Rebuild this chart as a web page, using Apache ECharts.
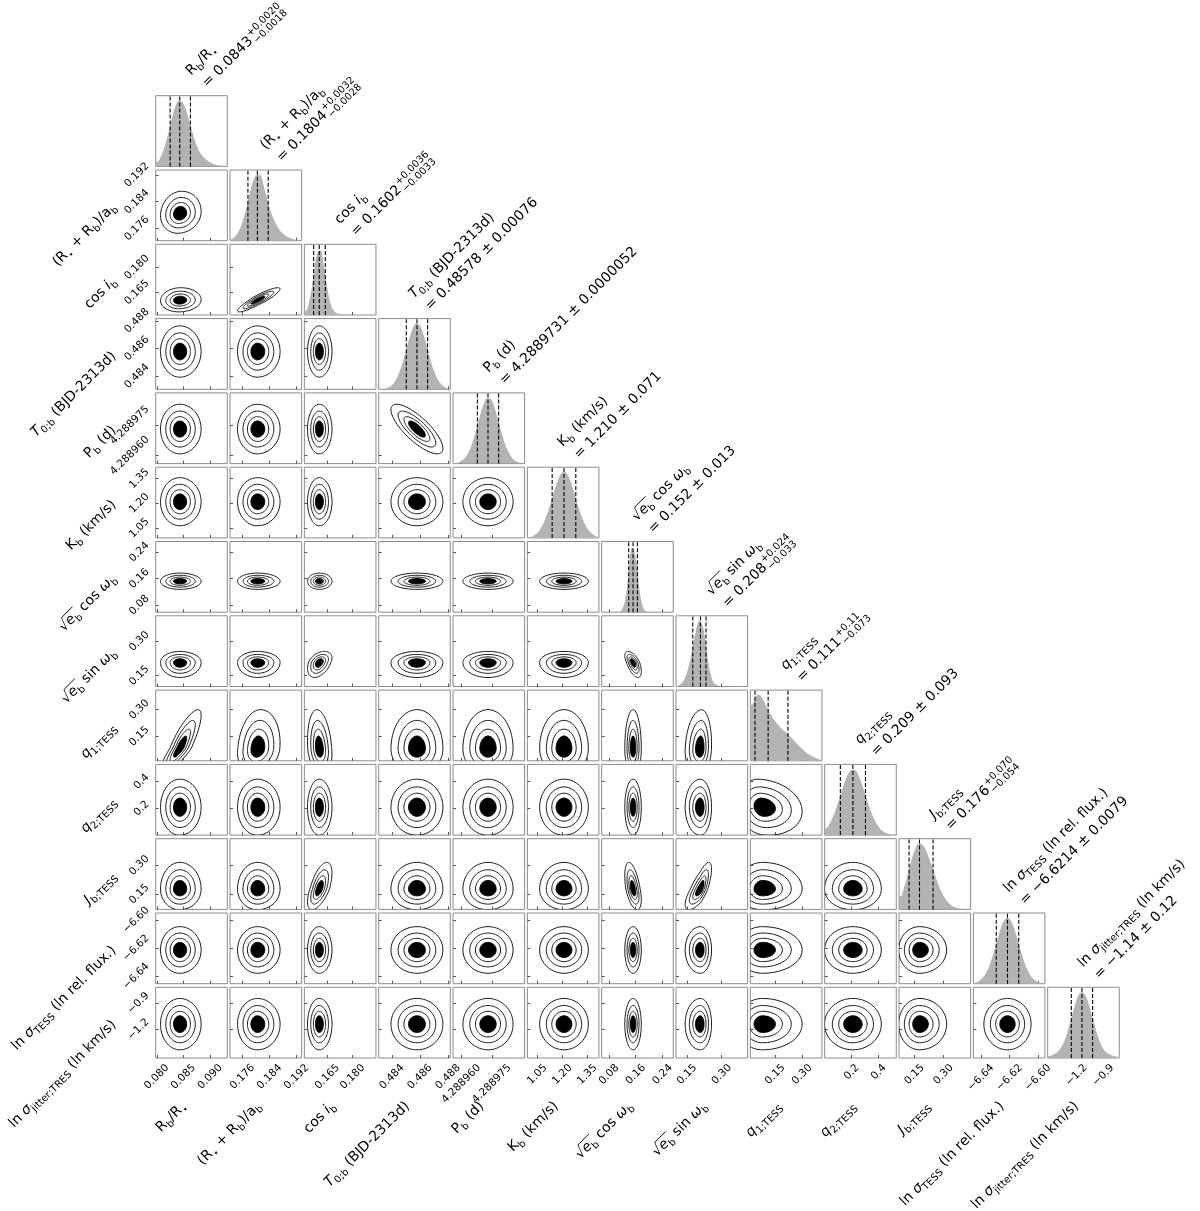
<!DOCTYPE html>
<html>
<head>
<meta charset="utf-8">
<script src="https://cdn.jsdelivr.net/npm/echarts@6.0.0/dist/echarts.min.js"></script>
<style>
    html, body {margin: 0; padding: 0; background: #fff}
    #chart {width: 1200px; height: 1211px}
</style>
</head>
<body>
<div id="chart"></div>
<script>
// axis labels, one list of text runs per parameter ('n' upright, 'i' italic, 'b' subscript, third item = overline)
const names = [
    [['R', 'n'], ['b', 'b'], ['/R', 'n'], ['⋆', 'b']],
    [['(R', 'n'], ['⋆', 'b'], [' + R', 'n'], ['b', 'b'], [')/a', 'n'], ['b', 'b']],
    [['cos ', 'n'], ['i', 'i'], ['b', 'b']],
    [['T', 'i'], ['0;b', 'b'], [' (BJD-2313d)', 'n']],
    [['P', 'n'], ['b', 'b'], [' (d)', 'n']],
    [['K', 'n'], ['b', 'b'], [' (km/s)', 'n']],
    [['√', 'n'], ['e', 'i', 1], ['b', 'b', 1], [' cos ', 'n'], ['ω', 'i'], ['b', 'b']],
    [['√', 'n'], ['e', 'i', 1], ['b', 'b', 1], [' sin ', 'n'], ['ω', 'i'], ['b', 'b']],
    [['q', 'i'], ['1;TESS', 'b']],
    [['q', 'i'], ['2;TESS', 'b']],
    [['J', 'i'], ['b;TESS', 'b']],
    [['ln ', 'n'], ['σ', 'i'], ['TESS', 'b'], [' (ln rel. flux.)', 'n']],
    [['ln ', 'n'], ['σ', 'i'], ['jitter;TRES', 'b'], [' (ln km/s)', 'n']]
]

// title numbers
const titleMain = ['0.0843', '0.1804', '0.1602', '0.48578', '4.2889731', '1.210', '0.152', '0.208', '0.111', '0.209', '0.176', '−6.6214', '−1.14']
const titlePlus = ['+0.0020', '+0.0032', '+0.0036', '0.00076', '0.0000052', '0.071', '0.013', '+0.024', '+0.11', '0.093', '+0.070', '0.0079', '0.12']
const titleMinus = ['−0.0018', '−0.0028', '−0.0033', null, null, null, null, '−0.033', '−0.073', null, '−0.054', null, null]

// quantiles (16 / 50 / 84 %)
const median = [0.0843, 0.1804, 0.1602, 0.48578, 4.2889731, 1.210, 0.152, 0.208, 0.111, 0.209, 0.176, -6.6214, -1.14]
const sigLo = [0.0018, 0.0028, 0.0033, 0.00076, 0.0000052, 0.071, 0.013, 0.033, 0.073, 0.093, 0.054, 0.0079, 0.12]
const sigHi = [0.0020, 0.0032, 0.0036, 0.00076, 0.0000052, 0.071, 0.013, 0.024, 0.11, 0.093, 0.070, 0.0079, 0.12]
// where the 2D contours are centred, and how far they spread relative to sigma
const centre = [0.0843, 0.1804, 0.1602, 0.48578, 4.2889731, 1.210, 0.152, 0.208, 0.08, 0.209, 0.176, -6.6214, -1.14]
const spread = [1.0, 1.05, 1.05, 1.22, 1.18, 1.03, 0.95, 1.0, 1.0, 1.13, 1.0, 1.05, 1.22]

// axis ranges
const lo = [0.0798, 0.1723, 0.1514, 0.48305, 4.288956, 0.99, 0.0582, 0.1025, 0.012, 0.0, 0.07, -6.6454, -1.526]
const hi = [0.0932, 0.1935, 0.1938, 0.48816, 4.288991, 1.42, 0.2723, 0.4118, 0.41, 0.53, 0.44, -6.5951, -0.72]

// tick values and their labels
const ticks = [
    [0.080, 0.085, 0.090], [0.176, 0.184, 0.192], [0.165, 0.180], [0.484, 0.486, 0.488],
    [4.288960, 4.288975], [1.05, 1.20, 1.35], [0.08, 0.16, 0.24], [0.15, 0.30],
    [0.15, 0.30], [0.2, 0.4], [0.15, 0.30], [-6.64, -6.62, -6.60], [-1.2, -0.9]
]
const tickText = [
    ['0.080', '0.085', '0.090'], ['0.176', '0.184', '0.192'], ['0.165', '0.180'], ['0.484', '0.486', '0.488'],
    ['4.288960', '4.288975'], ['1.05', '1.20', '1.35'], ['0.08', '0.16', '0.24'], ['0.15', '0.30'],
    ['0.15', '0.30'], ['0.2', '0.4'], ['0.15', '0.30'], ['−6.64', '−6.62', '−6.60'], ['−1.2', '−0.9']
]

// 1D marginal heights (relative to peak) across each axis range
const histRb = [0.071, 0.157, 0.30, 0.50, 0.72, 0.906, 0.997, 0.97, 0.845, 0.665, 0.47, 0.31, 0.20, 0.13, 0.085, 0.05, 0.03, 0.018, 0.01, 0.005]
const histRa = [0.026, 0.067, 0.15, 0.29, 0.49, 0.72, 0.91, 1.0, 0.99, 0.81, 0.60, 0.42, 0.29, 0.19, 0.12, 0.075, 0.045, 0.025, 0.013, 0.006]
const histCosi = [0.065, 0.24, 0.57, 0.92, 0.98, 0.73, 0.38, 0.14, 0.05, 0.02, 0.008, 0.003, 0.001, 0, 0, 0, 0, 0, 0, 0]
const histT0 = [0.003, 0.008, 0.023, 0.054, 0.115, 0.22, 0.37, 0.56, 0.76, 0.92, 1.0, 0.96, 0.83, 0.64, 0.44, 0.27, 0.147, 0.072, 0.031, 0.012]
const histP = [0.007, 0.018, 0.045, 0.098, 0.19, 0.33, 0.52, 0.72, 0.89, 0.99, 0.98, 0.865, 0.68, 0.48, 0.30, 0.17, 0.085, 0.038, 0.015, 0.006]
const histK = [0.013, 0.030, 0.064, 0.125, 0.22, 0.357, 0.53, 0.71, 0.87, 0.975, 0.997, 0.93, 0.79, 0.61, 0.43, 0.28, 0.165, 0.089, 0.044, 0.019]
const histEcos = [0, 0, 0, 0, 0.002, 0.026, 0.17, 0.58, 0.975, 0.83, 0.36, 0.078, 0.009, 0.001, 0, 0, 0, 0, 0, 0]
const histEsin = [0.012, 0.044, 0.128, 0.30, 0.55, 0.83, 0.99, 0.91, 0.555, 0.225, 0.06, 0.02, 0.008, 0.005, 0.004, 0.004, 0.004, 0.006, 0.012, 0.008]
const histQ1 = [0.85, 0.98, 1.0, 0.93, 0.82, 0.72, 0.63, 0.56, 0.50, 0.45, 0.40, 0.35, 0.29, 0.23, 0.18, 0.13, 0.09, 0.06, 0.04, 0.02]
const histQ2 = [0.107, 0.188, 0.30, 0.45, 0.62, 0.79, 0.92, 0.99, 0.985, 0.90, 0.76, 0.59, 0.42, 0.28, 0.17, 0.095, 0.049, 0.023, 0.01, 0.004]
const histJ = [0.20, 0.35, 0.54, 0.75, 0.915, 0.997, 0.98, 0.90, 0.76, 0.61, 0.45, 0.31, 0.20, 0.12, 0.068, 0.036, 0.018, 0.009, 0.004, 0.002]
const histLnT = [0.016, 0.038, 0.081, 0.157, 0.276, 0.437, 0.626, 0.81, 0.947, 1.0, 0.954, 0.823, 0.641, 0.45, 0.287, 0.165, 0.086, 0.040, 0.017, 0.007]
const histJit = [0.03, 0.05, 0.08, 0.14, 0.234, 0.39, 0.585, 0.78, 0.936, 1.0, 0.953, 0.81, 0.62, 0.42, 0.256, 0.14, 0.08, 0.05, 0.03, 0.02]
const hists = [histRb, histRa, histCosi, histT0, histP, histK, histEcos, histEsin, histQ1, histQ2, histJ, histLnT, histJit]

// correlation of each pair, row i (1..12) against columns 0..i-1
const rho = [
    [0.1],
    [0.05, 0.9],
    [0, 0, 0],
    [0, 0, 0, -0.78],
    [0, 0, 0, 0, 0],
    [0, 0, 0, 0, 0, 0],
    [0, 0, 0.4, 0, 0, 0, -0.6],
    [0.85, 0.15, -0.2, 0, 0, 0, 0, 0.1],
    [0, 0, 0, 0, 0, 0, 0, 0, -0.15],
    [0, 0, 0.6, 0, 0, 0, -0.5, 0.75, 0, 0],
    [0, 0, 0, 0, 0, 0, 0, 0, 0, 0, 0],
    [0, 0, 0, 0, 0, 0, 0, 0, 0, 0, 0, 0]
]
// contour levels in sigma (the first one is filled)
const levels = [0.65, 1, 1.45, 2]

const N = 13
const X0 = 155.7, DX = 74.33, W = 71.6
const Y0 = 95.7, DY = 74.3, H = 70.7
const MAIN = 14, SCRIPT = 10, TICK = 10.5
const FONT = 'DejaVu Sans'
const HTOP = 1.07

let ctx = document.createElement('canvas').getContext('2d')
function measure(t, size, italic) {
    ctx.font = (italic ? 'italic ' : '') + size + 'px "' + FONT + '"'
    return ctx.measureText(t).width
}

function text(t, x, yb, size, italic) {
    return {
        type: 'text', x: x, y: yb - 0.3 * size,
        style: {text: t, fontSize: size, fontFamily: FONT, fontStyle: italic ? 'italic' : 'normal',
            fill: '#000', align: 'left', verticalAlign: 'middle'}
    }
}

function place(runs, x0, yb) {
    let els = []
    let x = x0, ovA = null, ovB = null
    runs.forEach(function (r) {
        let t = r[0], k = r[1], w
        if (k === 'p') {
            els.push(text(t[0], x + 1, yb - 6, SCRIPT, false))
            els.push(text(t[1], x + 1, yb + 4, SCRIPT, false))
            w = 1 + Math.max(measure(t[0], SCRIPT), measure(t[1], SCRIPT))
        } else {
            let size = k === 'b' ? SCRIPT : MAIN
            els.push(text(t, x, yb + (k === 'b' ? 3.5 : 0), size, k === 'i'))
            w = measure(t, size, k === 'i')
        }
        if (r[2]) {
            if (ovA === null) ovA = x
            ovB = x + w
        }
        x += w
    })
    if (ovA !== null) {
        els.push({type: 'line', shape: {x1: ovA - 1, y1: yb - 12.5, x2: ovB, y2: yb - 12.5},
            style: {stroke: '#000', lineWidth: 0.9}})
    }
    return {els: els, width: x - x0}
}

function titleRuns(p) {
    if (titleMinus[p]) {
        return [['= ' + titleMain[p], 'n'], [[titlePlus[p], titleMinus[p]], 'p']]
    }
    return [['= ' + titleMain[p] + ' ± ' + titlePlus[p], 'n']]
}

function labelFor(p, v) {
    let best = 0
    ticks[p].forEach(function (t, k) {
        if (Math.abs(t - v) < Math.abs(ticks[p][best] - v)) best = k
    })
    return tickText[p][best]
}

function labelMargin(p) {
    let L = 0
    tickText[p].forEach(function (t) { L = Math.max(L, measure(t, TICK)) })
    return 4.5 + (L + TICK) * 0.3536
}

function makeAxis(p, g, labelled) {
    return {
        type: 'value', gridIndex: g, min: lo[p], max: hi[p],
        axisLine: {show: false},
        splitLine: {show: false},
        axisTick: {show: true, inside: true, length: 3, lineStyle: {color: '#555', width: 1}, customValues: ticks[p]},
        axisLabel: {
            show: labelled, customValues: ticks[p], rotate: 45, align: 'center', verticalAlign: 'middle',
            margin: labelMargin(p), fontSize: TICK, fontFamily: FONT, color: '#000',
            formatter: function (v) { return labelFor(p, v) }
        }
    }
}

function ring(i, j, s) {
    let r = rho[i - 1][j], q = Math.sqrt(1 - r * r)
    let pts = []
    for (let k = 0; k <= 72; k++) {
        let t = k / 72 * 2 * Math.PI
        let u = s * spread[j] * Math.cos(t)
        let v = s * spread[i] * (r * Math.cos(t) + q * Math.sin(t))
        pts.push([centre[j] + u * (u < 0 ? sigLo[j] : sigHi[j]), centre[i] + v * (v < 0 ? sigLo[i] : sigHi[i])])
    }
    return pts
}

function histSeries(p, g) {
    let vals = hists[p], n = vals.length, step = (hi[p] - lo[p]) / n
    let data = [[lo[p], vals[0]]]
    vals.forEach(function (v, k) { data.push([lo[p] + (k + 0.5) * step, v]) })
    data.push([hi[p], vals[n - 1]])
    let out = [{
        type: 'line', xAxisIndex: g, yAxisIndex: g, data: data, smooth: 0.35, symbol: 'none',
        lineStyle: {width: 0}, areaStyle: {color: '#b3b3b3', opacity: 1}, silent: true
    }]
    // dashed quantile lines
    let qs = [median[p] - sigLo[p], median[p], median[p] + sigHi[p]]
    qs.forEach(function (q) {
        out.push({
            type: 'line', xAxisIndex: g, yAxisIndex: g, data: [[q, 0], [q, HTOP]], symbol: 'none', silent: true,
            lineStyle: {color: '#000', type: [4, 2], width: 1.1}, z: 3
        })
    })
    return out
}

function contourSeries(i, j, g) {
    return {
        type: 'custom', coordinateSystem: 'cartesian2d', xAxisIndex: g, yAxisIndex: g, clip: true, silent: true,
        data: levels.map(function (s) { return [centre[j], centre[i], s] }),
        encode: {x: 0, y: 1},
        renderItem: function (params, api) {
            let s = api.value(2)
            let pts = ring(i, j, s).map(function (pt) { return api.coord(pt) })
            let cs = params.coordSys
            let inner = s === levels[0]
            return {
                type: inner ? 'polygon' : 'polyline',
                shape: {points: pts},
                style: inner ? {fill: '#000', stroke: '#000', lineWidth: 1} : {fill: null, stroke: '#1a1a1a', lineWidth: 1},
                clipPath: {type: 'rect', shape: {x: cs.x, y: cs.y, width: cs.width, height: cs.height}}
            }
        }
    }
}

let grid = [], xAxis = [], yAxis = [], series = []
for (let i = 0; i < N; i++) {
    for (let j = 0; j <= i; j++) {
        let g = grid.length
        grid.push({
            left: X0 + j * DX, top: Y0 + i * DY, width: W, height: H,
            show: true, borderColor: '#8c8c8c', borderWidth: 1, backgroundColor: 'transparent',
            containLabel: false, outerBoundsMode: 'none'
        })
        xAxis.push(makeAxis(j, g, i === N - 1))
        if (i === j) {
            yAxis.push({type: 'value', gridIndex: g, min: 0, max: HTOP, show: false})
            series = series.concat(histSeries(i, g))
        } else {
            yAxis.push(makeAxis(i, g, j === 0))
            series.push(contourSeries(i, j, g))
        }
    }
}

let graphics = []
for (let p = 0; p < N; p++) {
    let cx = X0 + p * DX + W / 2
    // title above each marginal
    let l1 = place(names[p], 0, 0)
    let l2 = place(titleRuns(p), 3, 20)
    graphics.push({type: 'group', x: cx, y: Y0 + p * DY - 19.5, rotation: Math.PI / 4, children: l1.els.concat(l2.els)})
    // bottom axis name
    let nb = place(names[p], 0, 0)
    graphics.push({type: 'group', x: cx - 4, y: 1107, rotation: Math.PI / 4,
        children: [{type: 'group', x: -nb.width, children: nb.els}]})
    // left axis name
    if (p > 0) {
        let nl = place(names[p], 0, 0)
        graphics.push({type: 'group', x: 117, y: Y0 + p * DY + H / 2 + 3, rotation: Math.PI / 4,
            children: [{type: 'group', x: -nl.width, children: nl.els}]})
    }
}

let chart = echarts.init(document.getElementById('chart'))
chart.setOption({
    animation: false,
    backgroundColor: '#fff',
    grid: grid,
    xAxis: xAxis,
    yAxis: yAxis,
    series: series,
    graphic: {elements: graphics}
})
</script>
</body>
</html>
